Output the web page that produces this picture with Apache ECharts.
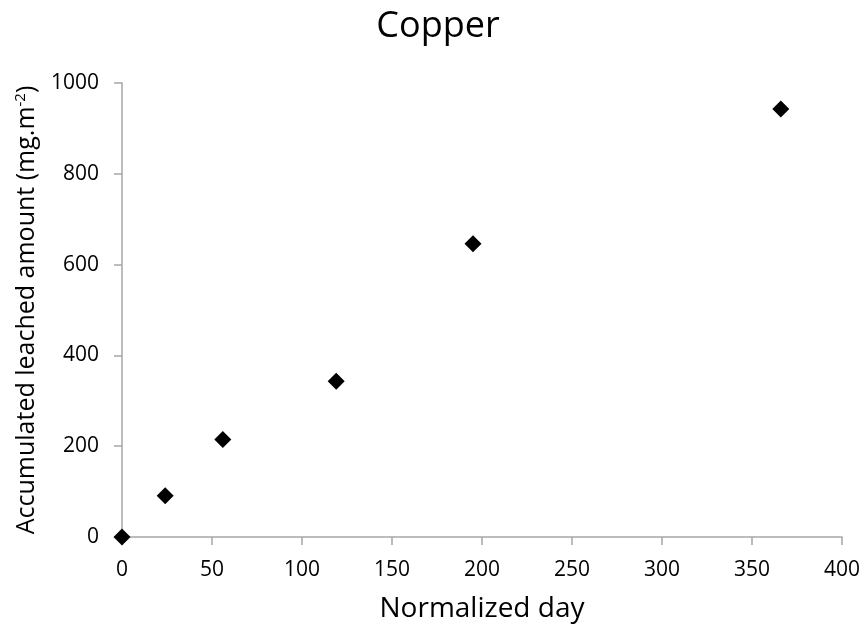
<!DOCTYPE html>
<html>
<head>
<meta charset="utf-8">
<script src="https://cdn.jsdelivr.net/npm/echarts@6/dist/echarts.min.js"></script>
<style>
  html, body { margin: 0; padding: 0; background: #fff; }
  #main-chart { width: 867px; height: 633px; }
</style>
</head>
<body>
<div id="main-chart"></div>
<script>
// values
var dayArray = [0, 24, 56, 119, 195, 366];
var amountArray = [0, 91, 215, 343, 646, 943];

var points = dayArray.map(function (d, i) { return [d, amountArray[i]]; });

var font = 'Open Sans';

option = {
	backgroundColor: '#fff',
	title: {
		text: 'Copper',
		left: 433,
		textAlign: 'center',
		top: 4,
		textStyle: { fontFamily: font, fontSize: 36, fontWeight: 'normal', color: '#000' }
	},
	grid: {
		left: 122,
		right: 25,
		top: 83,
		bottom: 96
	},
	xAxis: {
		type: 'value',
		min: 0,
		max: 400,
		interval: 50,
		name: 'Normalized day',
		nameLocation: 'middle',
		nameGap: 58,
		nameTextStyle: { fontFamily: font, fontSize: 28, color: '#000' },
		axisLine: { show: true, lineStyle: { color: '#a6a6a6', width: 1.5 } },
		axisTick: { show: true, length: 8, lineStyle: { color: '#a6a6a6', width: 1.5 } },
		axisLabel: { fontFamily: font, fontSize: 21, color: '#000', margin: 23 },
		splitLine: { show: false }
	},
	yAxis: {
		type: 'value',
		min: 0,
		max: 1000,
		interval: 200,
		name: 'Accumulated leached amount (mg.m{sup|-2})',
		nameLocation: 'middle',
		nameGap: 82,
		nameTextStyle: {
			fontFamily: font, fontSize: 25, color: '#000',
			rich: {
				sup: { fontFamily: font, fontSize: 15, color: '#000', verticalAlign: 'top', padding: [0, 0, 12, 0] }
			}
		},
		axisLine: { show: true, lineStyle: { color: '#a6a6a6', width: 1.5 } },
		axisTick: { show: true, length: 8, lineStyle: { color: '#a6a6a6', width: 1.5 } },
		axisLabel: {
			fontFamily: font, fontSize: 21, color: '#000', margin: 23,
			formatter: function (v) { return String(v); }
		},
		splitLine: { show: false }
	},
	series: [
		{
			type: 'scatter',
			symbol: 'diamond',
			symbolSize: 17,
			itemStyle: { color: '#000', opacity: 1 },
			data: points
		}
	]
};

var myChart = echarts.init(document.getElementById('main-chart'));
myChart.setOption(option);
</script>
</body>
</html>
